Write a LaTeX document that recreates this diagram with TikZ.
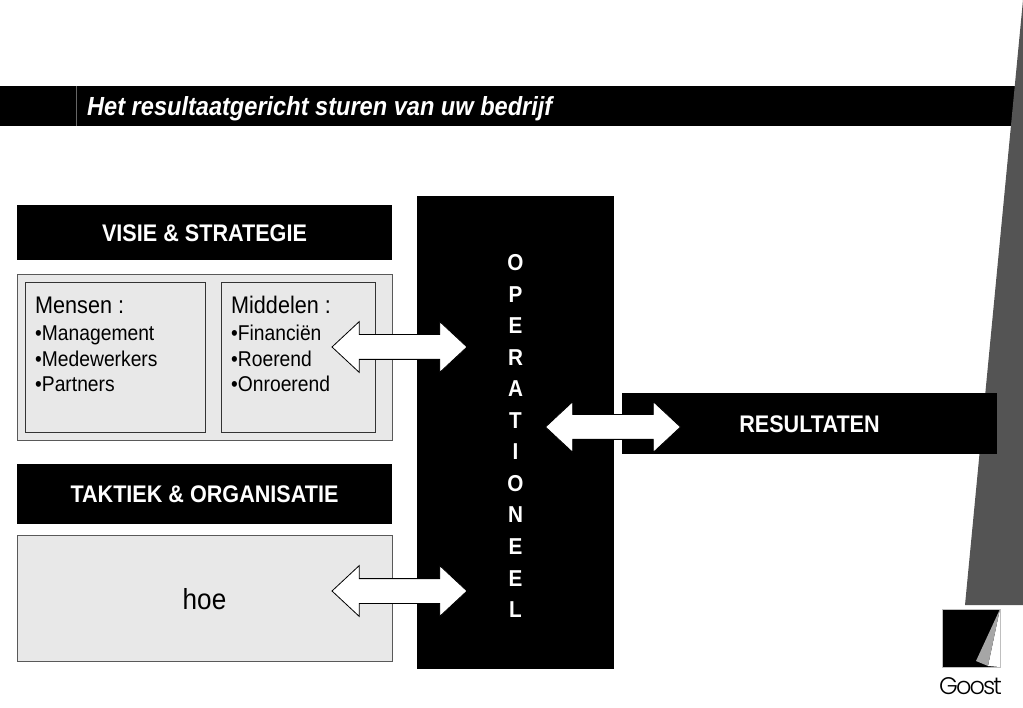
\documentclass[tikz,border=0pt]{standalone}
\usepackage{fontspec}
\setmainfont[FakeStretch=0.9]{Liberation Sans}
\newfontfamily\logofont{Poppins Light}
\usetikzlibrary{shapes.arrows}
\tikzset{
  bar/.style={fill=black, text=white, inner sep=0pt, font=\bfseries\fontsize{24}{28}\selectfont},
  pane/.style={draw=black!65, line width=1pt, fill=black!9},
  list/.style={anchor=north west, align=left, inner sep=0pt, font=\fontsize{21.4}{25.5}\selectfont},
  twoway/.style={double arrow, draw=black, line width=0.8pt, fill=white, inner xsep=0pt, inner ysep=12pt,
    double arrow head extend=13pt, double arrow tip angle=86, minimum height=135pt}
}
\begin{document}
\begin{tikzpicture}[x=1pt, y=-1pt]
\useasboundingbox (0,0) rectangle (1023,708);
\fill[black] (0,86) rectangle (1016,126);
\draw[black!60, line width=0.6pt] (76,86) -- (76,126);
\node (title) [anchor=west, text=white, inner sep=0pt, font=\bfseries\itshape\fontsize{26.2}{30}\selectfont] at (87,108.5) {Het resultaatgericht sturen van uw bedrijf};
\fill[black!67] (1023,0) -- (965,605) -- (1023,605) -- cycle;
\node (visie) [bar, minimum width=375pt, minimum height=55pt] at (204.5,233) {VISIE \& STRATEGIE};
\draw[pane] (17,275) rectangle (392,441);
\draw[pane, draw=black!80] (25,283) rectangle (205,433);
\draw[pane, draw=black!80] (221,283) rectangle (375,433);
\node (mensen) [list] at (35,294) {{\fontsize{24}{28}\selectfont\strut Mensen :}\\[1.5pt]•Management\\•Medewerkers\\•Partners};
\node (middelen) [list] at (231,294) {{\fontsize{24}{28}\selectfont\strut Middelen :}\\[1.5pt]•Financiën\\•Roerend\\•Onroerend};
\node (taktiek) [bar, minimum width=375pt, minimum height=60pt] at (204.5,494) {TAKTIEK \& ORGANISATIE};
\draw[pane] (17,535) rectangle (392,661);
\node (hoe) [inner sep=0pt, font=\fontsize{29}{32}\selectfont] at (204.5,599) {hoe};
\node (oper) [fill=black, minimum width=197pt, minimum height=473pt, inner sep=0pt] at (515.5,432.5) {};
\node (opertext) [text=white, inner sep=0pt, align=center, font=\bfseries\fontsize{23}{31.55}\selectfont] at (515.5,436) {O\\P\\E\\R\\A\\T\\I\\O\\N\\E\\E\\L};
\node (result) [bar, minimum width=375pt, minimum height=61pt] at (809.5,424) {RESULTATEN};
\node (pijl1) [twoway] at (399.5,347) {};
\node (pijl2) [twoway] at (399.5,591) {};
\node (pijl3) [twoway] at (613,427) {};
\fill[black] (942,609) rectangle (1000,667);
\fill[white] (1000,609) -- (988,666) -- (1000,667) -- cycle;
\fill[black!35] (1000,609) -- (976,661) -- (988,666) -- cycle;
\draw[black!25, line width=0.5pt] (942,609) rectangle (1000,667);
\node (logo) [inner sep=0pt, font=\logofont\fontsize{24}{26}\selectfont\addfontfeature{LetterSpace=-8}] at (970.5,686) {Goost};
\end{tikzpicture}
\end{document}
